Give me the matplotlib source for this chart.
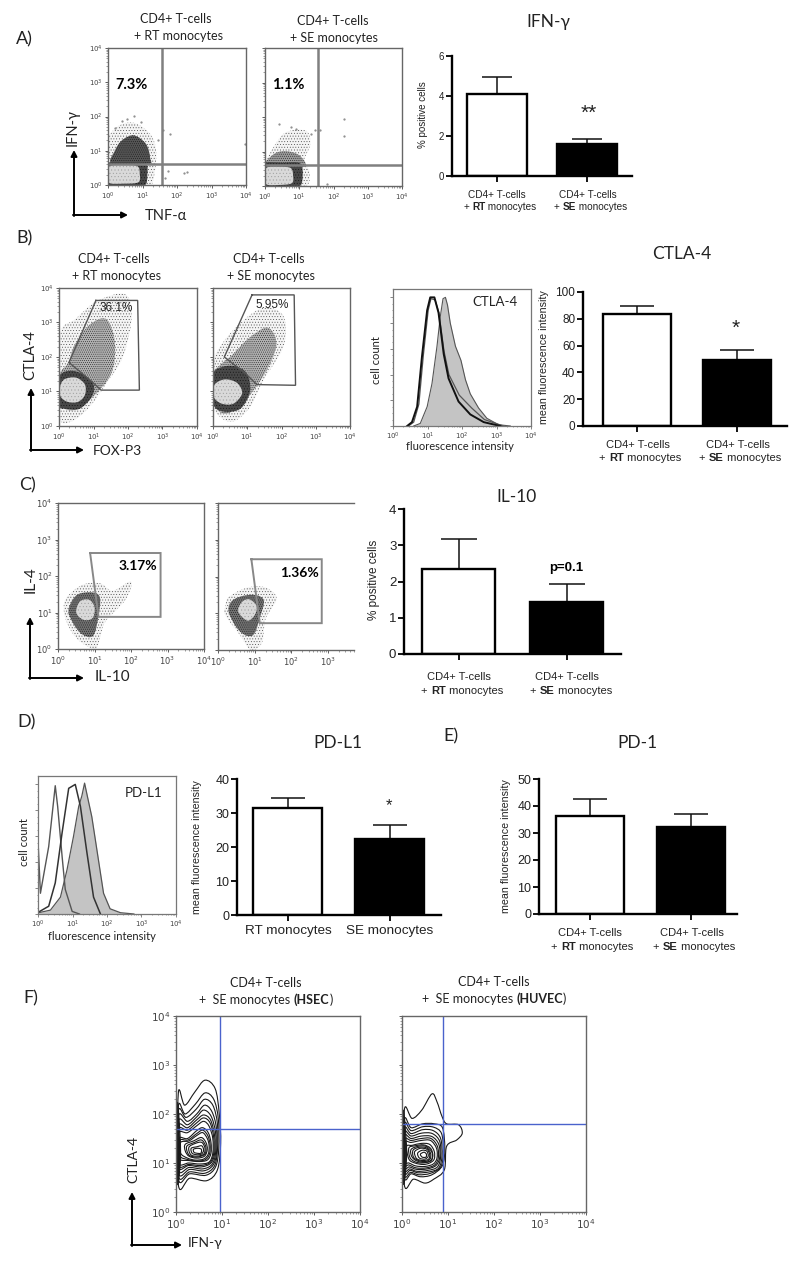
import numpy as np
import matplotlib
matplotlib.use("Agg")
import matplotlib.pyplot as plt
from matplotlib.path import Path
from matplotlib.patches import PathPatch
from matplotlib.ticker import NullFormatter, LogLocator

plt.rcParams['mathtext.fontset'] = 'custom'
plt.rcParams['mathtext.rm'] = 'Liberation Sans'
plt.rcParams['mathtext.default'] = 'regular'
plt.rcParams['hatch.linewidth'] = 0.3
LATO = ['Lato', 'DejaVu Sans']
ARIAL = 'Liberation Sans'

# bar values (mean, top of error bar)
ifn_vals, ifn_tops = [4.1, 1.6], [4.95, 1.87]
ctla_vals, ctla_tops = [83.5, 49.5], [89.7, 56.5]
il10_vals, il10_tops = [2.34, 1.43], [3.18, 1.93]
pdl1_vals, pdl1_tops = [31.6, 22.4], [34.4, 26.5]
pd1_vals, pd1_tops = [36.3, 32.2], [42.7, 37.2]

# flow plots, everything in log10 decades
a1_gate = [1.57, 0.61]
a2_gate = [1.55, 0.62]
a1_outer = [(0, .6), (0, 1.35), (.35, 1.75), (.8, 1.8), (1.25, 1.45), (1.4, .9), (1.3, .1), (1.1, -.02), (0, -.02)]
a1_mid = [(.12, .62), (.2, 1.0), (.4, 1.3), (.75, 1.45), (1.1, 1.2), (1.22, .8), (1.15, .6)]
a1_dark = [(-.02, -.02), (.5, -.02), (1.05, -.02), (1.14, .3), (1.08, .64), (.5, .66), (-.02, .64), (-.03, .3)]
a1_core = [(.04, .06), (.45, .04), (.88, .08), (.92, .32), (.85, .55), (.45, .58), (.05, .55), (.03, .3)]
a2_outer = [(0, .6), (.2, 1.05), (.6, 1.55), (1.2, 1.6), (1.32, 1.2), (1.15, .75), (1.3, .4), (1.15, -.02), (0, -.02)]
a2_mid = [(.05, .6), (.3, .95), (.7, 1.0), (1.05, .85), (1.12, .55)]
a2_dark = [(-.02, -.02), (.5, -.02), (1.0, -.02), (1.1, .3), (1.02, .66), (.5, .68), (-.02, .66), (-.03, .3)]
a2_core = [(.04, .05), (.4, .03), (.78, .08), (.82, .3), (.75, .52), (.4, .56), (.05, .53), (.03, .3)]
a1_dots_x = [.42, .75, 1.6, 2.2, 2.3, 1.75, 1.65, 3.98, .2, 1.45, 1.8, .55, .95]
a1_dots_y = [1.88, 2.02, 1.62, .35, .37, .4, .2, 1.2, 1.65, 1.3, 1.5, 1.92, 1.85]
a2_dots_x = [.4, 2.32, 2.32, 1.6, 1.8, 1.35, 1.45, .9, .75]
a2_dots_y = [1.8, 1.95, 1.45, 1.62, .05, 1.5, 1.62, 1.65, 1.72]

b1_gate = [(1.07, 3.64), (2.28, 3.64), (2.33, 1.04), (1.22, 1.04), (.95, 1.29), (.29, 1.84), (1.07, 3.64)]
b2_gate = [(1.14, 3.80), (2.37, 3.80), (2.41, 1.18), (1.28, 1.2), (.94, 1.53), (.33, 2.0), (1.14, 3.80)]
b1_outer = [(0, .27), (.36, .13), (.89, .56), (1.38, 1.24), (1.86, 2.02), (2.11, 3.18), (1.91, 3.82),
            (1.09, 3.62), (.46, 3.09), (.07, 2.8), (0, 1.83)]
b1_mid = [(.07, .61), (.46, .47), (.99, .85), (1.52, 1.53), (1.62, 2.41), (1.38, 3.09), (.89, 2.94),
          (.46, 2.36), (.26, 1.83), (0, 1.44)]
b1_dark = [(0, .6), (.2, .5), (.6, .5), (.95, .85), (1.0, 1.2), (.7, 1.5), (.3, 1.6), (0, 1.4)]
b1_core = [(.05, .85), (.25, .7), (.55, .7), (.75, .9), (.75, 1.2), (.5, 1.4), (.15, 1.35), (.02, 1.1)]
b2_outer = [(0, .66), (.2, .27), (.6, .13), (1.09, .56), (1.48, 1.34), (2.06, 2.31), (2.06, 3.18),
            (1.48, 3.43), (.8, 2.99), (.21, 2.31), (.02, 1.83)]
b2_mid = [(0, .7), (.35, .35), (.9, .7), (1.5, 1.5), (1.85, 2.35), (1.6, 2.85), (1.05, 2.55),
          (.55, 2.05), (.3, 1.85), (0, 1.5)]
b2_dark = [(0, .65), (.3, .42), (.8, .5), (1.08, 1.0), (1.0, 1.5), (.7, 1.72), (.3, 1.72), (0, 1.5)]
b2_core = [(.02, .85), (.25, .65), (.6, .65), (.85, .95), (.7, 1.25), (.35, 1.35), (.05, 1.2)]

c1_gate = [(.88, 2.63), (2.81, 2.63), (2.81, .88), (1.11, .88), (.88, 2.63)]
c2_gate = [(.91, 2.47), (2.83, 2.47), (2.83, .73), (1.14, .73), (.91, 2.47)]
c1_outer = [(.2, .85), (.5, .3), (1.0, 0), (1.15, .3), (1.3, .75), (1.85, 1.35), (2.0, 1.85),
            (1.5, 1.6), (1.15, 1.8), (.65, 1.75), (.2, 1.35)]
c1_mid = [(.3, .95), (.6, .45), (.95, .35), (1.1, .85), (1.15, 1.4), (.95, 1.55), (.55, 1.5), (.35, 1.25)]
c1_core = [(.5, 1.0), (.7, .8), (.95, .85), (1.0, 1.15), (.85, 1.35), (.6, 1.3)]
c2_outer = [(.2, .95), (.6, .4), (.9, 0), (1.2, .2), (1.3, .85), (1.6, 1.4), (1.3, 1.7), (.8, 1.7),
            (.3, 1.45), (.2, 1.2)]
c2_mid = [(.3, 1.0), (.6, .5), (.95, .4), (1.15, .9), (1.25, 1.35), (1.0, 1.5), (.6, 1.45), (.35, 1.3)]
c2_core = [(.55, 1.05), (.8, .8), (1.0, .95), (1.05, 1.2), (.85, 1.38), (.65, 1.3)]

# histograms: x in decades, y as share of the peak
ctla_fill_x = [.60, .79, .99, 1.13, 1.275, 1.37, 1.45, 1.52, 1.58, 1.66, 1.81, 1.97, 2.10, 2.24, 2.48, 2.72, 3.06, 3.40]
ctla_fill_y = [0, .02, .15, .33, .62, .85, .99, 1.0, .94, .80, .62, .51, .36, .25, .14, .06, .01, 0]
ctla_thick_x = [.41, .55, .70, .84, .99, 1.08, 1.20, 1.32, 1.47, 1.61, 1.90, 2.24, 2.63, 3.11]
ctla_thick_y = [0, .03, .15, .54, .90, 1.0, 1.0, .88, .56, .37, .19, .09, .03, 0]
ctla_thin_x = [.45, .60, .75, .88, 1.02, 1.10, 1.22, 1.33, 1.48, 1.62, 1.92, 2.28, 2.65, 3.2]
ctla_thin_y = [0, .03, .17, .55, .90, .99, .98, .88, .58, .40, .24, .14, .05, 0]
pdl1_fill_x = [.02, .36, .65, .84, 1.03, 1.18, 1.27, 1.35, 1.43, 1.56, 1.71, 1.90, 2.09, 2.39, 2.78]
pdl1_fill_y = [.01, .03, .13, .34, .60, .83, .91, 1.01, .91, .75, .49, .16, .04, .01, 0]
pdl1_left_x = [0, .01, .07, .31, .50, .57, .70, .79, .99, 1.2]
pdl1_left_y = [0, .51, .16, .52, .99, .83, .44, .19, .02, 0]
pdl1_mid_x = [.05, .31, .50, .70, .89, 1.08, 1.23, 1.42, 1.61, 1.81]
pdl1_mid_y = [.02, .06, .24, .63, .97, 1.0, .83, .47, .13, 0]

# contour plots
f1_gate = [0.95, 1.70]
f2_gate = [0.895, 1.80]
f1_contours = [
    [(.05, 2.42), (.19, 2.18), (.41, 2.45), (.63, 2.69), (.85, 2.52), (.94, 2.01), (.97, 1.40), (.90, .86), (.67, .64), (.30, .69), (.05, .56)],
    [(.05, 2.15), (.2, 2.0), (.42, 2.2), (.63, 2.43), (.82, 2.3), (.92, 1.9), (.93, 1.3), (.86, .92), (.65, .75), (.3, .78), (.05, .68)],
    [(.05, 2.05), (.22, 1.93), (.44, 2.1), (.62, 2.3), (.8, 2.18), (.9, 1.8), (.9, 1.25), (.83, .93), (.62, .79), (.3, .82), (.05, .74)],
    [(.05, 1.95), (.25, 1.85), (.45, 2.0), (.62, 2.18), (.78, 2.05), (.88, 1.7), (.88, 1.2), (.8, .95), (.6, .84), (.3, .87), (.05, .8)],
    [(.05, 1.85), (.25, 1.78), (.45, 1.94), (.6, 2.08), (.76, 1.96), (.86, 1.62), (.86, 1.2), (.78, .97), (.58, .88), (.29, .91), (.05, .86)],
    [(.05, 1.75), (.25, 1.72), (.45, 1.88), (.6, 1.98), (.75, 1.88), (.84, 1.55), (.84, 1.2), (.76, 1.0), (.55, .92), (.28, .95), (.05, .92)],
    [(.05, 1.68), (.25, 1.67), (.45, 1.82), (.6, 1.92), (.74, 1.82), (.82, 1.52), (.82, 1.2), (.74, 1.01), (.54, .95), (.28, .97), (.05, .96)],
    [(.05, 1.6), (.25, 1.62), (.45, 1.76), (.6, 1.85), (.72, 1.75), (.8, 1.5), (.8, 1.2), (.72, 1.02), (.52, .98), (.28, 1.0), (.05, 1.0)],
    [(.06, 1.5), (.25, 1.5), (.45, 1.66), (.58, 1.72), (.7, 1.62), (.76, 1.42), (.76, 1.2), (.68, 1.06), (.5, 1.03), (.28, 1.05), (.06, 1.1)],
    [(.08, 1.46), (.26, 1.47), (.45, 1.6), (.58, 1.67), (.69, 1.56), (.74, 1.38), (.73, 1.19), (.64, 1.07), (.46, 1.04), (.26, 1.07), (.08, 1.15)],
    [(.1, 1.42), (.28, 1.45), (.45, 1.56), (.58, 1.62), (.68, 1.5), (.72, 1.35), (.7, 1.18), (.6, 1.08), (.42, 1.06), (.25, 1.1), (.1, 1.2)],
    [(.2, 1.38), (.38, 1.45), (.55, 1.52), (.65, 1.42), (.68, 1.28), (.62, 1.14), (.45, 1.1), (.28, 1.14), (.2, 1.25)],
    [(.24, 1.35), (.4, 1.42), (.55, 1.47), (.64, 1.36), (.65, 1.23), (.6, 1.16), (.45, 1.12), (.3, 1.15), (.24, 1.24)],
    [(.28, 1.32), (.42, 1.4), (.56, 1.42), (.63, 1.3), (.6, 1.18), (.46, 1.14), (.32, 1.17)],
    [(.33, 1.3), (.45, 1.33), (.56, 1.35), (.6, 1.26), (.55, 1.18), (.44, 1.17), (.35, 1.2)],
    [(.38, 1.28), (.47, 1.3), (.55, 1.28), (.54, 1.2), (.45, 1.2), (.39, 1.22)],
    [(.03, 2.2), (.08, 1.7), (.1, 1.2), (.08, .85), (.03, .62)],
    [(.03, 2.0), (.07, 1.6), (.08, 1.2), (.07, .88), (.03, .66)],
    [(.03, 1.85), (.06, 1.5), (.07, 1.2), (.06, .9), (.03, .7)],
    [(.03, 1.7), (.05, 1.45), (.055, 1.2), (.05, .95), (.03, .78)],
]
f2_contours = [
    [(.05, 2.08), (.22, 1.91), (.43, 2.08), (.65, 2.41), (.76, 2.25), (.87, 1.95), (.97, 1.80), (1.23, 1.78), (1.31, 1.61), (1.19, 1.47), (.97, 1.34), (.92, .86), (.69, .67), (.5, .59), (.25, .67), (.05, .56)],
    [(.05, 1.88), (.2, 1.72), (.45, 1.8), (.7, 1.8), (.88, 1.72), (.93, 1.3), (.88, .95), (.65, .76), (.4, .72), (.2, .78), (.05, .72)],
    [(.05, 1.79), (.2, 1.66), (.45, 1.74), (.69, 1.73), (.86, 1.6), (.9, 1.22), (.84, .92), (.62, .79), (.37, .76), (.19, .81), (.05, .77)],
    [(.05, 1.7), (.2, 1.6), (.45, 1.68), (.68, 1.66), (.84, 1.5), (.87, 1.15), (.8, .9), (.6, .82), (.35, .8), (.18, .85), (.05, .82)],
    [(.05, 1.62), (.2, 1.55), (.43, 1.61), (.66, 1.6), (.82, 1.44), (.84, 1.13), (.77, .92), (.57, .85), (.33, .83), (.17, .88), (.05, .87)],
    [(.05, 1.55), (.2, 1.5), (.42, 1.55), (.65, 1.54), (.8, 1.38), (.82, 1.12), (.74, .95), (.55, .88), (.32, .87), (.16, .92), (.05, .92)],
    [(.05, 1.48), (.2, 1.46), (.42, 1.5), (.63, 1.5), (.77, 1.34), (.79, 1.11), (.71, .96), (.52, .9), (.31, .9), (.15, .96), (.05, .97)],
    [(.05, 1.42), (.2, 1.42), (.42, 1.46), (.62, 1.46), (.75, 1.3), (.76, 1.1), (.68, .98), (.5, .93), (.3, .94), (.15, 1.0), (.05, 1.02)],
    [(.1, 1.34), (.22, 1.36), (.42, 1.4), (.6, 1.38), (.7, 1.24), (.7, 1.08), (.6, 1.0), (.46, .97), (.28, 1.0), (.15, 1.08)],
    [(.15, 1.31), (.28, 1.35), (.47, 1.37), (.62, 1.3), (.67, 1.16), (.62, 1.04), (.43, 1.0), (.27, 1.03), (.17, 1.12)],
    [(.2, 1.28), (.35, 1.34), (.52, 1.34), (.65, 1.22), (.65, 1.08), (.55, 1.02), (.4, 1.02), (.27, 1.07), (.2, 1.16)],
    [(.24, 1.26), (.37, 1.32), (.53, 1.31), (.62, 1.2), (.61, 1.08), (.5, 1.03), (.36, 1.05), (.25, 1.12)],
    [(.28, 1.24), (.4, 1.3), (.54, 1.28), (.6, 1.18), (.58, 1.08), (.46, 1.05), (.33, 1.08), (.28, 1.16)],
    [(.34, 1.2), (.44, 1.26), (.54, 1.24), (.57, 1.14), (.5, 1.08), (.38, 1.1)],
    [(.4, 1.18), (.48, 1.22), (.53, 1.18), (.52, 1.12), (.44, 1.12)],
    [(.03, 2.05), (.08, 1.6), (.1, 1.2), (.08, .85), (.03, .62)],
    [(.03, 1.85), (.07, 1.5), (.08, 1.2), (.07, .88), (.03, .66)],
    [(.03, 1.75), (.06, 1.45), (.07, 1.2), (.06, .9), (.03, .7)],
    [(.03, 1.6), (.05, 1.4), (.055, 1.2), (.05, .95), (.03, .78)],
]

W, H = 800, 1262
fig = plt.figure(figsize=(W / 100, H / 100), dpi=100)


def pax(x0, y0, x1, y1):
    # axes from pixel box, y measured from the top
    return fig.add_axes([x0 / W, 1 - y1 / H, (x1 - x0) / W, (y1 - y0) / H])


def blob(ax, pts, **kw):
    # closed smooth outline through the decade coordinates (catmull-rom as beziers)
    p = np.array(pts, dtype=float)
    n = len(p)
    verts = [p[0]]
    codes = [Path.MOVETO]
    for i in range(n):
        p0, p1, p2, p3 = p[i - 1], p[i], p[(i + 1) % n], p[(i + 2) % n]
        verts += [p1 + (p2 - p0) / 6, p2 - (p3 - p1) / 6, p2]
        codes += [Path.CURVE4, Path.CURVE4, Path.CURVE4]
    verts = 10 ** np.array(verts)
    ax.add_patch(PathPatch(Path(verts, codes), **kw))


def log_axis(ax, which):
    axis = ax.xaxis if which == 'x' else ax.yaxis
    axis.set_major_locator(LogLocator(base=10, numticks=6))
    axis.set_minor_locator(LogLocator(base=10, subs=np.arange(2, 10), numticks=6))
    axis.set_minor_formatter(NullFormatter())


def flow_axes(box, ylabels=True, xlabelsize=5, color='#666666', xmax=1e4):
    ax = pax(*box)
    ax.set_xscale('log')
    ax.set_yscale('log')
    ax.set_xlim(1, xmax)
    ax.set_ylim(1, 1e4)
    log_axis(ax, 'x')
    log_axis(ax, 'y')
    ax.tick_params(which='major', length=2.5, width=.6, color='#444444', labelsize=xlabelsize,
                   labelcolor='#444444', pad=1.5)
    ax.tick_params(which='minor', length=1.3, width=.4, color='#555555')
    if not ylabels:
        ax.tick_params(axis='y', labelleft=False)
    for s in ax.spines.values():
        s.set_color(color)
        s.set_linewidth(1.0)
    return ax


def cloud(ax, outer, mid, dark=None, core=None, midface='#b0b0b0'):
    blob(ax, outer, facecolor='#f4f4f4', edgecolor='#444444', hatch='......', linewidth=0)
    blob(ax, mid, facecolor=midface, edgecolor='#111111', hatch='........', linewidth=0)
    if dark is not None:
        blob(ax, dark, facecolor='#484848', edgecolor='#111111', hatch='......', linewidth=0)
    if core is not None:
        blob(ax, core, facecolor='#d9d9d9', edgecolor='#999999', hatch='.....', linewidth=0)


def gate_poly(ax, pts, lw=1.1, color='#707070'):
    p = np.array(pts)
    ax.plot(10 ** p[:, 0], 10 ** p[:, 1], color=color, lw=lw, solid_joinstyle='miter')


def quad_gate(ax, g, color='#808080', lw=1.8):
    ax.axvline(10 ** g[0], color=color, lw=lw)
    ax.axhline(10 ** g[1], color=color, lw=lw)


def dots(ax, xs, ys):
    ax.plot(10 ** np.array(xs), 10 ** np.array(ys), ls='none', marker='.', ms=1.2, color='#888888')


def bar_panel(box, centers, bw, vals, tops, ymax, yticks, cap, labelsize=9, lw=1.7):
    ax = pax(*box)
    step = centers[1] - centers[0]
    ax.set_xlim((box[0] - centers[0]) / step, (box[2] - centers[0]) / step)
    ax.set_ylim(0, ymax)
    err = np.array(tops) - np.array(vals)
    ax.errorbar([0, 1], vals, yerr=[[0, 0], err], fmt='none', ecolor='#111111', elinewidth=1.1,
                capsize=cap, capthick=1.1, zorder=1)
    ax.bar([0, 1], vals, width=bw / step, color=['white', 'black'], edgecolor='black', linewidth=lw, zorder=2)
    ax.set_xticks([0, 1])
    ax.set_xticklabels([])
    ax.set_yticks(yticks)
    ax.spines['top'].set_visible(False)
    ax.spines['right'].set_visible(False)
    ax.spines['left'].set_linewidth(lw)
    ax.spines['bottom'].set_linewidth(lw)
    ax.tick_params(axis='both', length=4, width=1.3, labelsize=labelsize, labelcolor='#222222', pad=1.5)
    for t in ax.get_yticklabels():
        t.set_family(ARIAL)
    return ax


def hist_axes(box):
    ax = pax(*box)
    ax.set_xscale('log')
    ax.set_xlim(1, 1e4)
    ax.set_ylim(0, 1.065)
    log_axis(ax, 'x')
    ax.set_yticks(np.arange(0, 1.01, .2))
    ax.set_yticks(np.arange(0, 1.05, .05), minor=True)
    ax.set_yticklabels([])
    ax.tick_params(which='major', length=2, width=.5, color='#555555', labelsize=5, labelcolor='#444444', pad=1.5)
    ax.tick_params(which='minor', length=1, width=.4, color='#555555')
    for s in ax.spines.values():
        s.set_color('#777777')
        s.set_linewidth(.9)
    return ax


# panel A
ax = flow_axes((108, 48, 246, 185))
cloud(ax, a1_outer, a1_mid, a1_dark, a1_core, midface='#555555')
dots(ax, a1_dots_x, a1_dots_y)
quad_gate(ax, a1_gate)
ax = flow_axes((265, 48, 402, 186), ylabels=False)
cloud(ax, a2_outer, a2_mid, a2_dark, a2_core, midface='#9a9a9a')
dots(ax, a2_dots_x, a2_dots_y)
quad_gate(ax, a2_gate)
bar_panel((452, 56, 632, 176), (497, 587.5), 60, ifn_vals, ifn_tops, 6, [0, 2, 4, 6], 10.5, labelsize=7)

# panel B
ax = flow_axes((59, 288, 197, 426))
cloud(ax, b1_outer, b1_mid, b1_dark, b1_core)
gate_poly(ax, b1_gate, lw=1.0, color='#555555')
ax = flow_axes((213, 288, 350, 426), ylabels=False)
cloud(ax, b2_outer, b2_mid, b2_dark, b2_core)
gate_poly(ax, b2_gate, lw=1.0, color='#555555')
ax = hist_axes((393, 289, 531, 426))
ax.fill_between(10 ** np.array(ctla_fill_x), ctla_fill_y, color='#c4c4c4', lw=0)
ax.plot(10 ** np.array(ctla_fill_x), ctla_fill_y, color='#555555', lw=.8)
ax.plot(10 ** np.array(ctla_thin_x), ctla_thin_y, color='#555555', lw=.9)
ax.plot(10 ** np.array(ctla_thick_x), ctla_thick_y, color='#111111', lw=1.4)
bar_panel((583, 292, 787, 426), (637, 737), 68, ctla_vals, ctla_tops, 100, [0, 20, 40, 60, 80, 100], 12, labelsize=8.5)

# panel C
ax = flow_axes((58, 503, 204, 649), xlabelsize=6)
cloud(ax, c1_outer, c1_mid, core=c1_core, midface='#707070')
gate_poly(ax, c1_gate, lw=1.4, color='#888888')
ax = flow_axes((218, 503, 354, 650), ylabels=False, xlabelsize=6, xmax=10 ** 3.71)
ax.spines['right'].set_visible(False)
cloud(ax, c2_outer, c2_mid, core=c2_core, midface='#707070')
gate_poly(ax, c2_gate, lw=1.4, color='#888888')
bar_panel((404, 509, 621, 654), (458.5, 566.5), 73, il10_vals, il10_tops, 4, [0, 1, 2, 3, 4], 13, labelsize=9.5)

# panel D
ax = hist_axes((38, 776, 176, 914))
ax.fill_between(10 ** np.array(pdl1_fill_x), pdl1_fill_y, color='#c4c4c4', lw=0)
ax.plot(10 ** np.array(pdl1_fill_x), pdl1_fill_y, color='#555555', lw=.9)
ax.plot(10 ** np.array(pdl1_left_x), pdl1_left_y, color='#555555', lw=1.0)
ax.plot(10 ** np.array(pdl1_mid_x), pdl1_mid_y, color='#333333', lw=1.1)
bar_panel((237, 779, 441, 915), (287.5, 389.5), 69, pdl1_vals, pdl1_tops, 40, [0, 10, 20, 30, 40], 12.5, labelsize=9)

# panel E
bar_panel((539, 779, 737, 914), (590, 691), 68, pd1_vals, pd1_tops, 50, [0, 10, 20, 30, 40, 50], 12.5, labelsize=9)

# panel F
ax = flow_axes((176, 1016, 360, 1212), xlabelsize=7.5)
for c in f1_contours:
    blob(ax, c, facecolor='none', edgecolor='#1a1a1a', linewidth=.8)
ax.axvline(10 ** f1_gate[0], color='#4a62cc', lw=1)
ax.axhline(10 ** f1_gate[1], color='#4a62cc', lw=1)
ax = flow_axes((402, 1016, 586, 1212), ylabels=False, xlabelsize=7.5)
for c in f2_contours:
    blob(ax, c, facecolor='none', edgecolor='#1a1a1a', linewidth=.8)
ax.axvline(10 ** f2_gate[0], color='#4a62cc', lw=1)
ax.axhline(10 ** f2_gate[1], color='#4a62cc', lw=1)

# everything else goes on a pixel overlay
bg = fig.add_axes([0, 0, 1, 1], zorder=10)
bg.set_xlim(0, W)
bg.set_ylim(H, 0)
bg.axis('off')


def txt(x, y, s, size=9, family=LATO, rot=0, weight='normal', color='#222222'):
    bg.text(x, y, s, fontsize=size, family=family, rotation=rot, weight=weight, color=color,
            ha='center', va='center')


def mixed(x, y, parts, size, family):
    # centred line with some bold words
    rend = fig.canvas.get_renderer()
    items = [bg.text(0, y, s, fontsize=size, family=family, weight='bold' if b else 'normal',
                     color='#222222', ha='left', va='center') for s, b in parts]
    widths = [t.get_window_extent(rend).width for t in items]
    left = x - sum(widths) / 2
    for t, w in zip(items, widths):
        t.set_x(left)
        left += w


def axes_arrows(x, y, top, right):
    style = dict(arrowstyle='-|>,head_width=.18,head_length=.35', color='black', lw=1.4,
                 shrinkA=0, shrinkB=0)
    bg.annotate('', xy=(x, top), xytext=(x, y + 1), arrowprops=style)
    bg.annotate('', xy=(right, y), xytext=(x - 1, y), arrowprops=style)


for s, x, y in [('A)', 24, 39), ('B)', 25, 238), ('C)', 27, 485), ('D)', 27, 722), ('E)', 451, 736), ('F)', 31, 998)]:
    txt(x, y, s, size=13)

# A text
txt(176, 19, 'CD4+ T-cells')
txt(178, 36, '+ RT monocytes')
txt(333, 21, 'CD4+ T-cells')
txt(334, 38, '+ SE monocytes')
txt(132, 85, '7.3%', size=10.5, weight='bold', color='black')
txt(288, 85, '1.1%', size=10.5, weight='bold', color='black')
txt(548, 22, 'IFN-γ', size=12.5)
txt(423, 115, '% positive cells', size=7, family=ARIAL, rot=90)
txt(589, 113, '**', size=15, family=ARIAL)
txt(497, 195, 'CD4+ T-cells', size=7.2, family=ARIAL)
mixed(500, 207, [('+ ', False), ('RT', True), (' monocytes', False)], 7.2, ARIAL)
txt(588, 195, 'CD4+ T-cells', size=7.2, family=ARIAL)
mixed(591, 207, [('+ ', False), ('SE', True), (' monocytes', False)], 7.2, ARIAL)
axes_arrows(74, 215, 150, 128)
txt(166, 216, 'TNF-α', size=10.5)
txt(73, 128, 'IFN-γ', size=10.5, rot=90)

# B text
txt(114, 259, 'CD4+ T-cells')
txt(116, 276, '+ RT monocytes')
txt(269, 259, 'CD4+ T-cells')
txt(271, 276, '+ SE monocytes')
txt(116, 308, '36.1%', size=8.5, family=ARIAL)
txt(272, 305, '5.95%', size=8.5, family=ARIAL)
txt(495, 302, 'CTLA-4', size=9.5)
txt(377, 360, 'cell count', size=8, rot=90)
txt(460, 446, 'fluorescence intensity', size=8)
txt(682, 254, 'CTLA-4', size=12.5)
txt(544, 357, 'mean fluorescence intensity', size=7.7, family=ARIAL, rot=90)
txt(736, 328, '*', size=15, family=ARIAL)
txt(638, 445, 'CD4+ T-cells', size=8, family=ARIAL)
mixed(640, 458, [('+ ', False), ('RT', True), (' monocytes', False)], 8, ARIAL)
txt(738, 445, 'CD4+ T-cells', size=8, family=ARIAL)
mixed(740, 458, [('+ ', False), ('SE', True), (' monocytes', False)], 8, ARIAL)
axes_arrows(31, 450, 388, 84)
txt(117, 451, 'FOX-P3', size=10)
txt(30, 355, 'CTLA-4', size=10.5, rot=90)

# C text
txt(138, 566, '3.17%', size=10, weight='bold', color='black')
txt(299, 573, '1.36%', size=10, weight='bold', color='black')
txt(517, 497, 'IL-10', size=12.5)
txt(374, 580, '% positive cells', size=8.5, family=ARIAL, rot=90)
txt(566, 568, 'p=0.1', size=9.5, family=ARIAL, weight='bold', color='black')
txt(459, 677, 'CD4+ T-cells', size=8, family=ARIAL)
mixed(462, 691, [('+ ', False), ('RT', True), (' monocytes', False)], 8, ARIAL)
txt(567, 677, 'CD4+ T-cells', size=8, family=ARIAL)
mixed(571, 691, [('+ ', False), ('SE', True), (' monocytes', False)], 8, ARIAL)
axes_arrows(30, 678, 617, 84)
txt(112, 677, 'IL-10', size=11)
txt(31, 580, 'IL-4', size=11, rot=90)

# D text
txt(144, 793, 'PD-L1', size=9.5)
txt(25, 842, 'cell count', size=8, rot=90)
txt(102, 937, 'fluorescence intensity', size=8)
txt(338, 743, 'PD-L1', size=12.5)
txt(197, 847, 'mean fluorescence intensity', size=7.7, family=ARIAL, rot=90)
txt(389, 806, '*', size=12, family=ARIAL)
txt(288, 931, 'RT monocytes', size=9.7, family=ARIAL)
txt(390, 931, 'SE monocytes', size=9.7, family=ARIAL)

# E text
txt(637, 743, 'PD-1', size=12.5)
txt(506, 846, 'mean fluorescence intensity', size=7.7, family=ARIAL, rot=90)
txt(590, 933, 'CD4+ T-cells', size=8, family=ARIAL)
mixed(592, 947, [('+ ', False), ('RT', True), (' monocytes', False)], 8, ARIAL)
txt(692, 933, 'CD4+ T-cells', size=8, family=ARIAL)
mixed(694, 947, [('+ ', False), ('SE', True), (' monocytes', False)], 8, ARIAL)

# F text
txt(266, 983, 'CD4+ T-cells')
mixed(266, 1000, [('+  SE monocytes ', False), ('(HSEC', True), (')', False)], 9, LATO)
txt(494, 982, 'CD4+ T-cells')
mixed(494, 999, [('+  SE monocytes ', False), ('(HUVEC', True), (')', False)], 9, LATO)
axes_arrows(132, 1245, 1192, 182)
txt(205, 1243, 'IFN-γ', size=10)
txt(133, 1159, 'CTLA-4', size=10, rot=90)

fig.savefig('out.png', dpi=100)
